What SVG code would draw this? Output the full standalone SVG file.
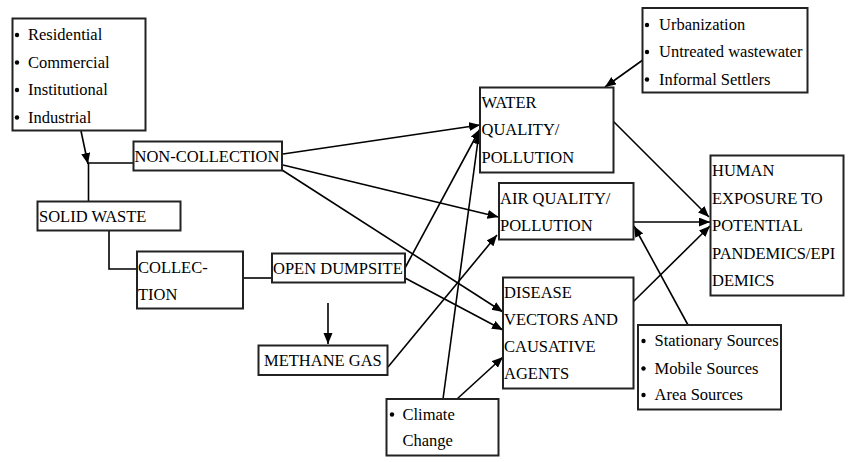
<svg xmlns="http://www.w3.org/2000/svg" width="852" height="462" viewBox="0 0 852 462">
<style>
.box{fill:#fff;stroke:#222;stroke-width:2}
text{font-family:"Liberation Serif","Times New Roman",serif;font-size:16.5px;fill:#000}
.c{stroke:#000;stroke-width:1.6;fill:none}
.b{fill:#000}
</style>
<defs>
<marker id="ah" markerUnits="userSpaceOnUse" markerWidth="12" markerHeight="10" refX="11" refY="4.5" orient="auto">
<path d="M0,0 L11,4.5 L0,9 z" fill="#000"/>
</marker>
</defs>
<rect width="852" height="462" fill="#fff"/>
<g id="connectors">
<line class="c" x1="81" y1="131" x2="88" y2="164" marker-end="url(#ah)"/>
<polyline class="c" points="133,163 88.5,163 88.5,201"/>
<polyline class="c" points="109,231 109,269 137,269"/>
<line class="c" x1="243" y1="278" x2="272" y2="278"/>
<line class="c" x1="328" y1="303" x2="328" y2="344" marker-end="url(#ah)"/>
<line class="c" x1="647" y1="57" x2="605" y2="87" marker-end="url(#ah)"/>
<line class="c" x1="283" y1="154" x2="480" y2="125" marker-end="url(#ah)"/>
<line class="c" x1="283" y1="165" x2="498.5" y2="217" marker-end="url(#ah)"/>
<line class="c" x1="282" y1="170" x2="503" y2="312" marker-end="url(#ah)"/>
<line class="c" x1="405" y1="278" x2="503" y2="330" marker-end="url(#ah)"/>
<line class="c" x1="405" y1="268" x2="480" y2="129" marker-end="url(#ah)"/>
<line class="c" x1="443" y1="399" x2="479" y2="133" marker-end="url(#ah)"/>
<line class="c" x1="457" y1="399" x2="503" y2="357" marker-end="url(#ah)"/>
<line class="c" x1="388" y1="367" x2="497" y2="235" marker-end="url(#ah)"/>
<line class="c" x1="613" y1="121" x2="709" y2="217" marker-end="url(#ah)"/>
<line class="c" x1="633" y1="222" x2="710" y2="222" marker-end="url(#ah)"/>
<line class="c" x1="633" y1="302" x2="710" y2="226" marker-end="url(#ah)"/>
<line class="c" x1="688" y1="325" x2="634" y2="226" marker-end="url(#ah)"/>
</g>
<g id="sources">
<rect class="box" x="12.5" y="18.5" width="133" height="112"/>
<circle class="b" cx="17" cy="35" r="2.2"/><text x="28" y="40">Residential</text>
<circle class="b" cx="17" cy="62.5" r="2.2"/><text x="28" y="67.5">Commercial</text>
<circle class="b" cx="17" cy="90" r="2.2"/><text x="28" y="95">Institutional</text>
<circle class="b" cx="17" cy="117.5" r="2.2"/><text x="28" y="122.5">Industrial</text>
</g>
<g id="noncollection">
<rect class="box" x="133.5" y="141.5" width="148.5" height="29"/>
<text x="134.5" y="162">NON-COLLECTION</text>
</g>
<g id="solidwaste">
<rect class="box" x="37.5" y="201.5" width="143" height="29"/>
<text x="39" y="221.5">SOLID WASTE</text>
</g>
<g id="collection">
<rect class="box" x="137" y="251.5" width="106" height="57"/>
<text x="138" y="272.5">COLLEC-</text>
<text x="138" y="300">TION</text>
</g>
<g id="opendumpsite">
<rect class="box" x="272" y="253.5" width="133" height="29"/>
<text x="273" y="273.5">OPEN DUMPSITE</text>
</g>
<g id="methane">
<rect class="box" x="258.5" y="345.5" width="129" height="29.5"/>
<text x="264" y="366">METHANE GAS</text>
</g>
<g id="climate">
<rect class="box" x="386.5" y="399" width="112" height="56.5"/>
<circle class="b" cx="392" cy="414.5" r="2.2"/><text x="402.5" y="419.5">Climate</text>
<text x="402.5" y="446">Change</text>
</g>
<g id="water">
<rect class="box" x="480" y="87.5" width="133.5" height="85"/>
<text x="481.5" y="108">WATER</text>
<text x="481.5" y="135">QUALITY/</text>
<text x="481.5" y="162.5">POLLUTION</text>
</g>
<g id="air">
<rect class="box" x="499" y="183" width="134.5" height="56.5"/>
<text x="500" y="203.5">AIR QUALITY/</text>
<text x="500" y="230.5">POLLUTION</text>
</g>
<g id="disease">
<rect class="box" x="503" y="277.5" width="130.5" height="111"/>
<text x="504" y="297.5">DISEASE</text>
<text x="504" y="324.5">VECTORS AND</text>
<text x="504" y="351.5">CAUSATIVE</text>
<text x="504" y="378.5">AGENTS</text>
</g>
<g id="urban">
<rect class="box" x="642.5" y="8" width="165" height="84.5"/>
<circle class="b" cx="647" cy="25" r="2.2"/><text x="659" y="30">Urbanization</text>
<circle class="b" cx="647" cy="52" r="2.2"/><text x="659" y="57">Untreated wastewater</text>
<circle class="b" cx="647" cy="79.5" r="2.2"/><text x="659" y="84.5">Informal Settlers</text>
</g>
<g id="human">
<rect class="box" x="710.5" y="155.5" width="133" height="140"/>
<text x="712" y="176">HUMAN</text>
<text x="712" y="203.5">EXPOSURE TO</text>
<text x="712" y="230.5">POTENTIAL</text>
<text x="712" y="258.5">PANDEMICS/EPI</text>
<text x="712" y="286">DEMICS</text>
</g>
<g id="sourcesair">
<rect class="box" x="638" y="325" width="143" height="84.5"/>
<circle class="b" cx="643.5" cy="341" r="2.2"/><text x="654.5" y="346">Stationary Sources</text>
<circle class="b" cx="643.5" cy="368.5" r="2.2"/><text x="654.5" y="373.5">Mobile Sources</text>
<circle class="b" cx="643.5" cy="395" r="2.2"/><text x="654.5" y="400">Area Sources</text>
</g>
</svg>
